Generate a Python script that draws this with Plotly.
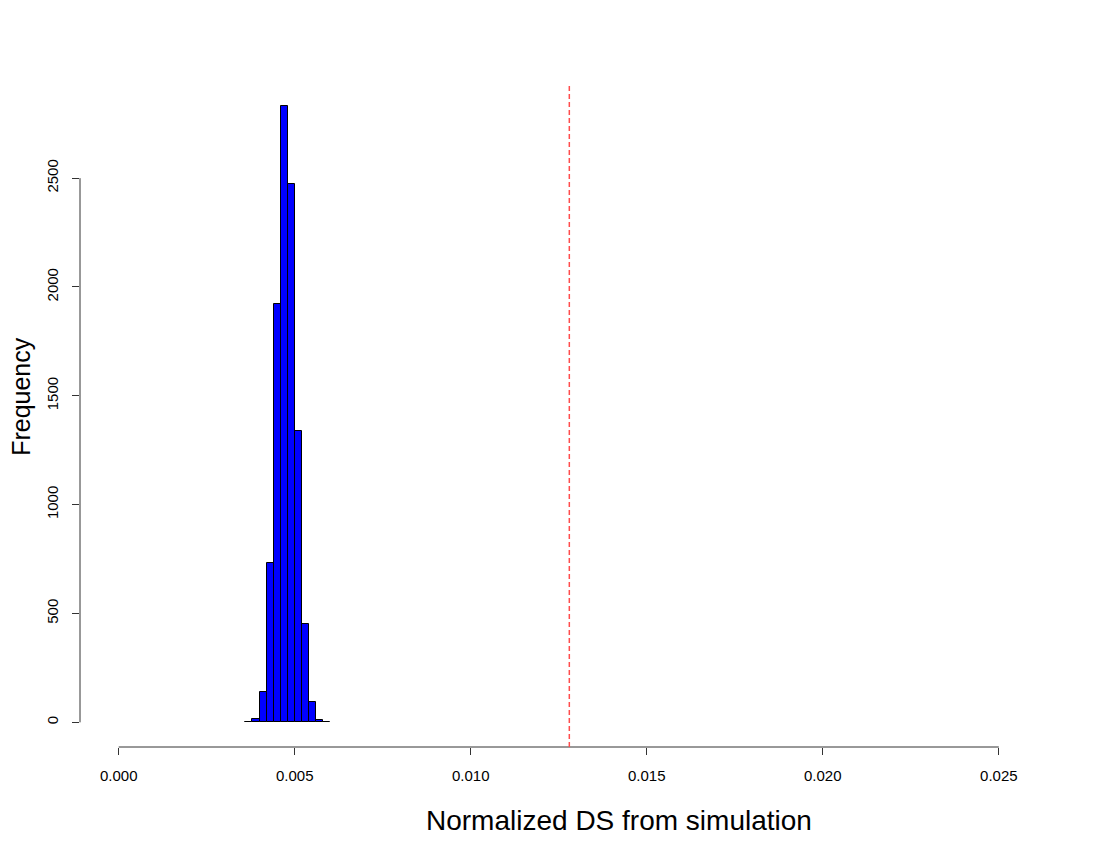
import plotly.graph_objects as go

# histogram bins (left edges) and counts
BIN_WIDTH = 0.0002
bin_left = [0.0036, 0.0038, 0.0040, 0.0042, 0.0044, 0.0046,
            0.0048, 0.0050, 0.0052, 0.0054, 0.0056, 0.0058]
counts = [3, 15, 141, 732, 1924, 2833, 2474, 1340, 453, 95, 11, 2]

observed_ds = 0.0128  # red dashed reference line

x_ticks = [0.000, 0.005, 0.010, 0.015, 0.020, 0.025]
x_tick_labels = ["0.000", "0.005", "0.010", "0.015", "0.020", "0.025"]
y_ticks = [0, 500, 1000, 1500, 2000, 2500]

FONT = "Liberation Sans, Arial, Helvetica, sans-serif"

bin_mid = [b + BIN_WIDTH / 2 for b in bin_left]

fig = go.Figure()
fig.add_trace(go.Bar(
    x=bin_mid,
    y=counts,
    width=BIN_WIDTH,
    marker=dict(color="#0000ff", line=dict(color="black", width=1)),
    showlegend=False,
))

# R-style axis lines spanning only the tick range
fig.add_shape(type="line", xref="x", yref="paper",
              x0=x_ticks[0], x1=x_ticks[-1], y0=0, y1=0,
              line=dict(color="#333333", width=1))
fig.add_shape(type="line", xref="paper", yref="y",
              x0=0, x1=0, y0=y_ticks[0], y1=y_ticks[-1],
              line=dict(color="#333333", width=1))

# observed value
fig.add_shape(type="line", xref="x", yref="paper",
              x0=observed_ds, x1=observed_ds, y0=0, y1=0.994,
              line=dict(color="#ff4d4d", width=1.5, dash="5px,3px"))

ymax = max(counts)
# page body adds an 8px offset, margins account for it
fig.update_layout(
    width=1100, height=850,
    margin=dict(l=72, r=74, t=73, b=111),
    plot_bgcolor="white", paper_bgcolor="white",
    font=dict(family=FONT, color="black"),
    bargap=0,
    xaxis=dict(
        range=[-0.0011, 0.026],
        tickvals=x_ticks, ticktext=x_tick_labels,
        ticks="outside", ticklen=7, tickcolor="#333333",
        tickfont=dict(size=15), showgrid=False, zeroline=False,
        showline=False, ticklabelstandoff=8, automargin=False,
    ),
    yaxis=dict(
        range=[-0.04 * ymax, 1.04 * ymax],
        tickvals=y_ticks,
        ticks="outside", ticklen=7, tickcolor="#333333",
        tickfont=dict(size=15), tickangle=-90,
        showgrid=False, zeroline=False, showline=False,
        ticklabelstandoff=8, automargin=False,
    ),
    annotations=[
        dict(text="Normalized DS from simulation", xref="paper", yref="paper",
             x=0.565, y=-0.11, xanchor="center", yanchor="middle",
             showarrow=False, font=dict(size=28)),
        dict(text="Frequency", xref="paper", yref="paper",
             x=-0.062, y=0.527, xanchor="center", yanchor="middle",
             textangle=-90, showarrow=False, font=dict(size=25)),
    ],
)

fig.write_html("out.html")
